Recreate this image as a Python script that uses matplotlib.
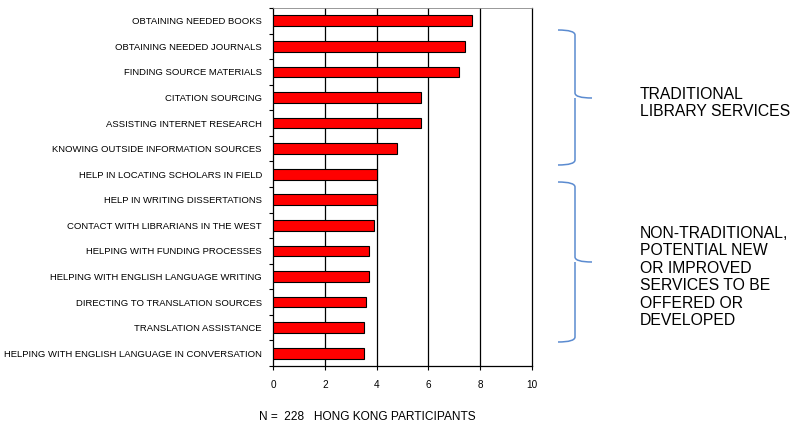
import numpy as np
import matplotlib.pyplot as plt
from matplotlib.path import Path
from matplotlib.patches import PathPatch

plt.rcParams['font.family'] = ['Liberation Sans', 'DejaVu Sans']

# Survey items (top to bottom) and mean scores
services = [
    "OBTAINING NEEDED BOOKS",
    "OBTAINING NEEDED JOURNALS",
    "FINDING SOURCE MATERIALS",
    "CITATION SOURCING",
    "ASSISTING INTERNET RESEARCH",
    "KNOWING OUTSIDE INFORMATION SOURCES",
    "HELP IN LOCATING SCHOLARS IN FIELD",
    "HELP IN WRITING DISSERTATIONS",
    "CONTACT WITH LIBRARIANS IN THE WEST",
    "HELPING WITH FUNDING PROCESSES",
    "HELPING WITH ENGLISH LANGUAGE WRITING",
    "DIRECTING TO TRANSLATION SOURCES",
    "TRANSLATION ASSISTANCE",
    "HELPING WITH ENGLISH LANGUAGE IN CONVERSATION",
]
scores = [7.7, 7.4, 7.2, 5.7, 5.7, 4.8, 4.0, 4.0, 3.9, 3.7, 3.7, 3.6, 3.5, 3.5]
x_ticks = [0, 2, 4, 6, 8, 10]

W, H = 795, 424
fig = plt.figure(figsize=(W / 100, H / 100), dpi=100)
ax = fig.add_axes([273 / W, 1 - 366 / H, 259 / W, 358 / H])

y = np.arange(len(services))
ax.barh(y, scores, height=0.42, color="#ff0000", edgecolor="black", linewidth=0.8, zorder=3)

ax.set_xlim(0, 10)
ax.set_ylim(len(services) - 0.5, -0.5)
ax.set_xticks(x_ticks)
ax.set_xticklabels([str(t) for t in x_ticks], fontsize=7.2)
ax.set_yticks(y)
ax.set_yticklabels(services, fontsize=6.8)
ax.set_yticks(np.arange(len(services) + 1) - 0.5, minor=True)
ax.tick_params(axis="y", which="major", length=0, pad=8)
ax.tick_params(axis="y", which="minor", length=3, width=0.8, direction="out")
ax.tick_params(axis="x", length=3, width=0.8, pad=7)
for gx in x_ticks[1:-1]:
    ax.axvline(gx, color="black", linewidth=0.9, zorder=1)
for s in ax.spines.values():
    s.set_linewidth(0.9)
ax.spines["top"].set_color("#888888")
ax.spines["top"].set_linewidth(0.6)

fig.text(259 / W, 1 - 417 / H, "N =  228   HONG KONG PARTICIPANTS", fontsize=8.6, va="center")


def px(xp, yp):
    return (xp / W, 1 - yp / H)


def brace(top, bottom, tip):
    x0, x1, x2 = 558, 575, 592
    c = 5
    verts = [
        px(x0, top), px(x1, top), px(x1, top + c), px(x1, top + c + 1),
        px(x1, tip - c), px(x1, tip), px(x2, tip),
        px(x1, tip), px(x1, tip + c), px(x1, tip + c + 1),
        px(x1, bottom - c), px(x1, bottom), px(x0, bottom),
    ]
    codes = [Path.MOVETO, Path.CURVE3, Path.CURVE3, Path.LINETO,
             Path.LINETO, Path.CURVE3, Path.CURVE3,
             Path.MOVETO, Path.CURVE3, Path.LINETO,
             Path.LINETO, Path.CURVE3, Path.CURVE3]
    fig.add_artist(PathPatch(Path(verts, codes), transform=fig.transFigure,
                             facecolor="none", edgecolor="#5b8bd0", linewidth=1.1))


brace(30, 165, 98)
brace(182, 342, 262)

fig.text(640 / W, 1 - 103 / H, "TRADITIONAL\nLIBRARY SERVICES", fontsize=11.3,
         va="center", ha="left", linespacing=1.2)
fig.text(640 / W, 1 - 277 / H,
         "NON-TRADITIONAL,\nPOTENTIAL NEW\nOR IMPROVED\nSERVICES TO BE\nOFFERED OR\nDEVELOPED",
         fontsize=11.3, va="center", ha="left", linespacing=1.2)

fig.savefig("out.png", dpi=100)
